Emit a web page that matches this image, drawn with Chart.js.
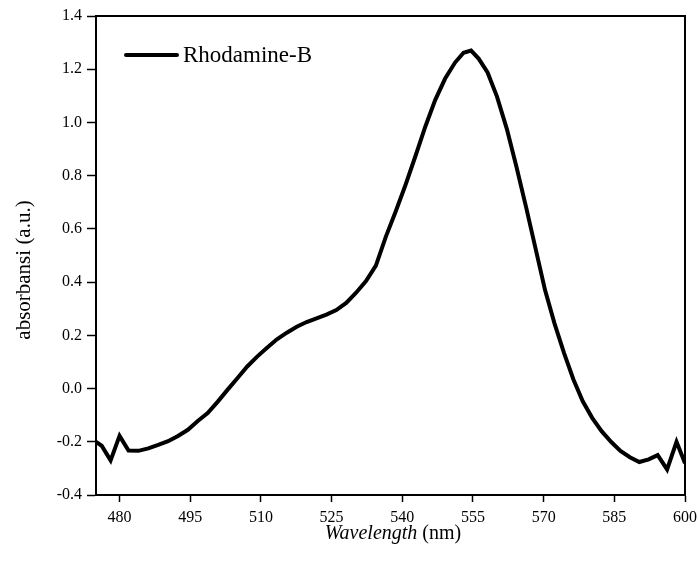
<!DOCTYPE html>
<html>
<head>
<meta charset="utf-8">
<script src="https://cdn.jsdelivr.net/npm/chart.js@4"></script>
<style>
    html, body { margin: 0; padding: 0; background: #fff; }
    #chart { display: block; }
</style>
</head>
<body>
<canvas id="chart" width="698" height="563"></canvas>
<script>
// wavelength (nm) and absorbance
const wavelength = [475.0, 476.2, 478.1, 480.0, 481.9, 484.0, 486.1, 488.2, 490.3, 492.4,
    494.5, 496.6, 498.7, 500.8, 502.9, 505.0, 507.1, 509.2, 511.3, 513.4,
    515.5, 517.6, 519.7, 521.8, 523.9, 526.0, 528.1, 530.2, 532.3, 534.4,
    536.5, 538.6, 540.7, 542.8, 544.9, 547.0, 549.1, 551.2, 553.0, 554.6,
    556.2, 558.1, 560.1, 562.2, 564.2, 566.3, 568.3, 570.3, 572.3, 574.3,
    576.3, 578.3, 580.3, 582.3, 584.3, 586.3, 588.3, 590.3, 592.3, 594.2,
    596.2, 598.2, 600.0];
const absorbance = [-0.200, -0.215, -0.270, -0.178, -0.233, -0.234, -0.225, -0.212, -0.198, -0.178,
    -0.155, -0.122, -0.092, -0.050, -0.005, 0.039, 0.083, 0.120, 0.153, 0.185,
    0.210, 0.232, 0.250, 0.264, 0.278, 0.295, 0.322, 0.360, 0.404, 0.462,
    0.570, 0.665, 0.766, 0.874, 0.985, 1.085, 1.165, 1.225, 1.262, 1.270,
    1.240, 1.188, 1.097, 0.975, 0.835, 0.680, 0.525, 0.370, 0.245, 0.135,
    0.035, -0.048, -0.110, -0.160, -0.200, -0.234, -0.258, -0.276, -0.266, -0.250,
    -0.304, -0.200, -0.281];
const xTicks = [480, 495, 510, 525, 540, 555, 570, 585, 600];
const seriesName = 'Rhodamine-B';
const yTitle = 'absorbansi (a.u.)';

const serif = "'Liberation Serif', 'Times New Roman', serif";

// frame around the plot, legend, axis titles
const framePlugin = {
    id: 'frame',
    afterDraw(chart) {
        const { ctx, chartArea: a } = chart;
        ctx.save();
        ctx.strokeStyle = '#000';
        ctx.lineWidth = 2;
        ctx.strokeRect(a.left, a.top, a.right - a.left, a.bottom - a.top);

        // legend
        ctx.lineWidth = 4;
        ctx.lineCap = 'round';
        ctx.beginPath();
        ctx.moveTo(126, 55);
        ctx.lineTo(177, 55);
        ctx.stroke();
        ctx.fillStyle = '#000';
        ctx.font = '23px ' + serif;
        ctx.textBaseline = 'middle';
        ctx.fillText(seriesName, 183, 56);

        // y title
        ctx.save();
        ctx.translate(24, 270);
        ctx.rotate(-Math.PI / 2);
        ctx.font = '21px ' + serif;
        ctx.textAlign = 'center';
        ctx.fillText(yTitle, 0, 0);
        ctx.restore();

        // x title
        ctx.font = 'italic 20px ' + serif;
        const w1 = ctx.measureText('Wavelength').width;
        ctx.font = '20px ' + serif;
        const w2 = ctx.measureText(' (nm)').width;
        const x = 393 - (w1 + w2) / 2;
        ctx.textBaseline = 'alphabetic';
        ctx.font = 'italic 20px ' + serif;
        ctx.fillText('Wavelength', x, 539);
        ctx.font = '20px ' + serif;
        ctx.fillText(' (nm)', x + w1, 539);
        ctx.restore();
    }
};

new Chart(document.getElementById('chart').getContext('2d'), {
    type: 'line',
    data: {
        datasets: [{
            label: seriesName,
            data: wavelength.map((w, i) => ({ x: w, y: absorbance[i] })),
            borderColor: '#000',
            borderWidth: 4,
            pointRadius: 0,
            tension: 0,
            fill: false
        }]
    },
    options: {
        responsive: false,
        animation: false,
        devicePixelRatio: 1,
        layout: { padding: { top: 16, right: 13, left: 0, bottom: 0 } },
        plugins: {
            legend: { display: false },
            tooltip: { enabled: false }
        },
        scales: {
            x: {
                type: 'linear',
                min: 475,
                max: 600,
                afterBuildTicks: (scale) => {
                    scale.ticks = xTicks.map(v => ({ value: v }));
                },
                afterFit: (scale) => {
                    scale.height = 68;
                    scale.paddingLeft = 0;
                    scale.paddingRight = 0;
                },
                grid: { drawOnChartArea: false, tickLength: 7, tickColor: '#000', tickWidth: 1.5 },
                border: { color: '#000', width: 2 },
                ticks: { color: '#000', font: { family: serif, size: 16 }, padding: 6, maxRotation: 0 }
            },
            y: {
                min: -0.4,
                max: 1.4,
                afterFit: (scale) => {
                    scale.width = 96;
                    scale.paddingTop = 0;
                    scale.paddingBottom = 0;
                },
                grid: { drawOnChartArea: false, tickLength: 9, tickColor: '#000', tickWidth: 1.5 },
                border: { color: '#000', width: 2 },
                ticks: {
                    stepSize: 0.2,
                    color: '#000',
                    font: { family: serif, size: 16 },
                    padding: 5,
                    callback: (v) => (Math.abs(v) < 1e-9 ? 0 : v).toFixed(1)
                }
            }
        }
    },
    plugins: [framePlugin]
});
</script>
</body>
</html>
